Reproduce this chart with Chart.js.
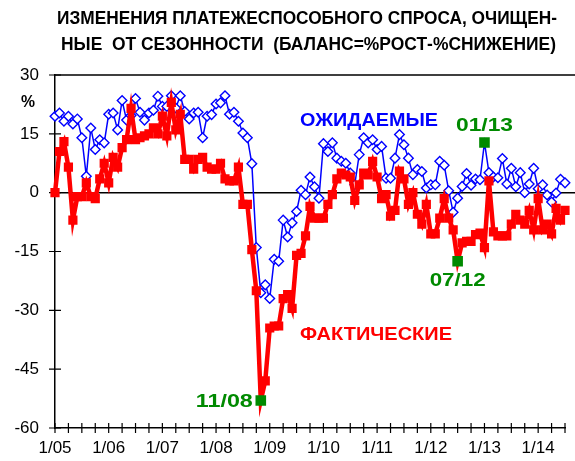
<!DOCTYPE html>
<html>
<head>
<meta charset="utf-8">
<script src="https://cdn.jsdelivr.net/npm/chart.js@4"></script>
<style>
  html, body { margin: 0; padding: 0; background: #fff; }
  #wrap { width: 575px; height: 461px; }
</style>
</head>
<body>
<div id="wrap"><canvas id="chartSpros" width="575" height="461"></canvas></div>
<script>
// месяцы 1/05 .. 7/14
const months = [];
for (let y = 5; y <= 14; y++) {
    for (let m = 1; m <= 12; m++) {
        if (y === 14 && m > 7) break;
        months.push(m + '/' + String(y).padStart(2, '0'));
    }
}
const yearLabels = ['1/05', '1/06', '1/07', '1/08', '1/09', '1/10', '1/11', '1/12', '1/13', '1/14'];
const yTicks = [30, 15, 0, -15, -30, -45, -60];

// ожидаемые (синяя линия)
const expected = [
    19.5, 20.3, 18.2, 19.5, 17.5, 18.8, 14, 4.2, 16.5, 11, 13.5, 12.7,
    20, 20.3, 16, 23.5, 18.5, 19.7, 24, 20.5, 18.5, 20.3, 21, 24.6,
    22, 22, 24.7, 21.6, 24.7, 20.7, 18.8, 20.3, 20.5, 14, 19.5, 19.9,
    22.6, 22.9, 24.7, 20, 20.5, 18.2, 15.2, 14, 7.4, -14, -25.5, -23.5,
    -27, -17, -17.5, -7, -11.3, -7.7, -4.8, 0.6, -0.5, 4, 1.5, -1.4,
    12.5, 10.5, 12.7, 8.8, 8, 7.5, 5, 2, 9.7, 14, 12.7, 13.5,
    11, 11.8, 3.7, 3.7, 8.8, 14.8, 12.2, 8.8, 4.6, 5.9, 5.4, 1.2,
    2, 2, 8, 7, 0.5, -5, -1.4, 1.6, 4.9, 1.9, 3.5, 3.3,
    12.8, 5.1, 4, 3.8, 8.7, 2.2, 6.2, 1.5, 5.1, 0, 2.2, 6.2,
    1, 2, -0.6, -2.4, -0.1, 3.4, 2.5
];

// фактические (красная линия)
const actual = [
    0, 10.5, 13, 6.5, -7, -1, -1, 2.5, -1, -1.5, 3.5, 7.5,
    2.5, 9, 6.5, 11.5, 13.5, 21.5, 13.5, 14, 14.5, 15, 16.5, 15,
    19.5, 14.5, 23, 16, 20, 8.5, 8.5, 6, 8.5, 9, 6.5, 6,
    6, 7.5, 3.5, 3, 3, 6.5, -3, -3, -14.5, -25, -53, -48,
    -34.5, -34, -34, -27, -26, -29.5, -16, -15.5, -11, -3.5, -6.5, -6.5,
    -6.5, -3, -0.5, 3.5, 5, 4.5, 4, -2, 2, 5, 4.5, 8,
    4, -1.5, -0.5, -6, -4.5, 5.5, 3.5, -3, 0, -5.5, -8, -3,
    -10.5, -10.5, -6.5, -1.5, -6.5, -9.5, -17.5, -12.8, -12.4, -12.4, -10.7, -10.3,
    -14, 3, -10, -11, -11, -11, -8, -5.5, -7, -8, -4.5, -9.5,
    -1.5, -9.5, -8, -10.5, -4, -7, -4.5
];

// отмеченные точки
const markActual = ['11/08', '7/12'];
const markExpected = ['1/13'];
const GREEN = '#008a00';

function isMarked(list, ctx) {
    return list.includes(months[ctx.dataIndex]);
}

function fitText(ctx, text, x, y, width, font, color, align) {
    ctx.save();
    ctx.font = font;
    ctx.fillStyle = color;
    ctx.textBaseline = 'middle';
    const w = ctx.measureText(text).width;
    const k = width / w;
    let x0 = x;
    if (align === 'center') x0 = x - width / 2;
    if (align === 'right') x0 = x - width;
    ctx.translate(x0, y);
    ctx.scale(k, 1);
    ctx.textAlign = 'left';
    ctx.fillText(text, 0, 0);
    ctx.restore();
}

const decor = {
    id: 'decor',
    beforeDatasetsDraw(chart) {
        const { ctx, chartArea: a, scales: { x, y } } = chart;
        ctx.save();
        ctx.strokeStyle = '#000';
        ctx.lineWidth = 1.5;
        // верхняя рамка и нулевая линия
        ctx.beginPath();
        ctx.moveTo(a.left, a.top);
        ctx.lineTo(575, a.top);
        const y0 = y.getPixelForValue(0);
        ctx.moveTo(a.left, y0);
        ctx.lineTo(575, y0);
        ctx.stroke();
        // засечки
        ctx.lineWidth = 1.2;
        ctx.beginPath();
        for (let i = 0; i < months.length; i += 3) {
            const px = x.getPixelForValue(i);
            ctx.moveTo(px, a.bottom - 5);
            ctx.lineTo(px, a.bottom + 5);
        }
        yTicks.forEach(v => {
            const py = y.getPixelForValue(v);
            ctx.moveTo(a.left - 6, py);
            ctx.lineTo(a.left + 6, py);
        });
        ctx.stroke();
        ctx.restore();
    },
    afterDraw(chart) {
        const { ctx } = chart;
        fitText(ctx, 'ИЗМЕНЕНИЯ ПЛАТЕЖЕСПОСОБНОГО СПРОСА, ОЧИЩЕН-', 57, 19, 500,
            'bold 19px "Liberation Sans Narrow", "Liberation Sans", Arial', '#000', 'left');
        fitText(ctx, 'НЫЕ  ОТ СЕЗОННОСТИ  (БАЛАНС=%РОСТ-%СНИЖЕНИЕ)', 61, 45, 495,
            'bold 19px "Liberation Sans Narrow", "Liberation Sans", Arial', '#000', 'left');
        fitText(ctx, '%', 28, 103, 14, 'bold 16px "Liberation Sans", Arial', '#000', 'center');
        fitText(ctx, 'ОЖИДАЕМЫЕ', 300, 121, 138, 'bold 19px "Liberation Sans", Arial', '#0000ff', 'left');
        fitText(ctx, 'ФАКТИЧЕСКИЕ', 300, 335, 152, 'bold 19px "Liberation Sans", Arial', '#ff0000', 'left');

        const red = chart.getDatasetMeta(1).data;
        const blue = chart.getDatasetMeta(0).data;
        const bold = 'bold 18px "Liberation Sans", Arial';
        const p1 = red[months.indexOf('11/08')];
        fitText(ctx, '11/08', p1.x - 8, p1.y + 1, 57, bold, GREEN, 'right');
        const p2 = red[months.indexOf('7/12')];
        fitText(ctx, '07/12', p2.x, p2.y + 20, 56, bold, GREEN, 'center');
        const p3 = blue[months.indexOf('1/13')];
        fitText(ctx, '01/13', p3.x, p3.y - 16, 57, bold, GREEN, 'center');
    }
};

new Chart(document.getElementById('chartSpros').getContext('2d'), {
    type: 'line',
    data: {
        labels: months,
        datasets: [{
            label: 'Ожидаемые',
            data: expected,
            borderColor: '#0000ff',
            borderWidth: 1.5,
            pointStyle: ctx => isMarked(markExpected, ctx) ? 'rect' : 'rectRot',
            pointRadius: ctx => isMarked(markExpected, ctx) ? 7.5 : 4.8,
            pointBorderWidth: ctx => isMarked(markExpected, ctx) ? 0 : 1.4,
            pointBorderColor: '#0000ff',
            pointBackgroundColor: ctx => isMarked(markExpected, ctx) ? GREEN : '#ffffff',
            tension: 0,
            order: 2
        }, {
            label: 'Фактические',
            data: actual,
            borderColor: '#ff0000',
            borderWidth: 4.5,
            pointStyle: 'rect',
            pointRadius: ctx => isMarked(markActual, ctx) ? 7.5 : 6.5,
            pointBorderWidth: 0,
            pointBackgroundColor: ctx => isMarked(markActual, ctx) ? GREEN : '#ff0000',
            tension: 0,
            order: 1
        }]
    },
    options: {
        responsive: false,
        animation: false,
        events: [],
        layout: { padding: { top: 75, right: 7, left: 0, bottom: 0 } },
        plugins: {
            legend: { display: false },
            tooltip: { enabled: false }
        },
        scales: {
            x: {
                type: 'category',
                offset: false,
                grid: { display: false, drawTicks: false },
                border: { display: true, color: '#000', width: 1.5 },
                ticks: {
                    autoSkip: false,
                    maxRotation: 0,
                    padding: 10,
                    color: '#000',
                    font: { family: '"Liberation Sans", Arial', size: 17 },
                    callback: (v, i) => yearLabels.includes(months[i]) ? months[i] : ''
                },
                afterFit: s => { s.height = 33; }
            },
            y: {
                min: -60,
                max: 30,
                grid: { display: false, drawTicks: false },
                border: { display: true, color: '#000', width: 1.5 },
                ticks: {
                    stepSize: 15,
                    padding: 16,
                    color: '#000',
                    font: { family: '"Liberation Sans", Arial', size: 17 }
                },
                afterFit: s => { s.width = 55; }
            }
        }
    },
    plugins: [decor]
});
</script>
</body>
</html>
